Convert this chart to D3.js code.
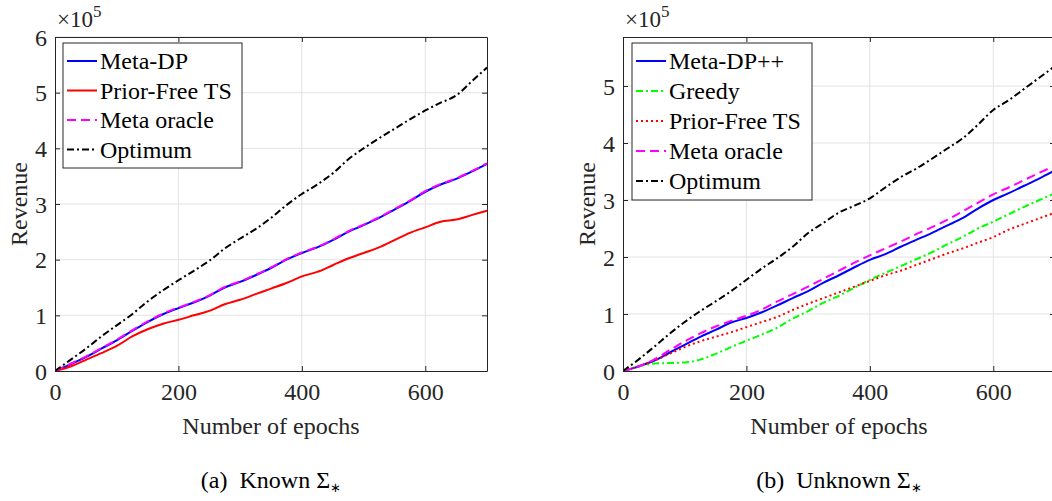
<!DOCTYPE html>
<html>
<head>
<meta charset="utf-8">
<script src="https://cdn.jsdelivr.net/npm/d3@7"></script>
</head>
<body style="margin:0;background:#fff">
<svg id="chart" width="1052" height="501"></svg>
<script>
//
// Data (revenue in units of 1e5)
//
const epochs = [0, 25, 50, 75, 100, 125, 150, 175, 200, 225, 250, 275, 300, 325, 350,
  375, 400, 425, 450, 475, 500, 525, 550, 575, 600, 625, 650, 675, 700];

// (a) Known Sigma
const knownMetaDP = [0, 0.12, 0.25, 0.40, 0.55, 0.72, 0.88, 1.02, 1.13, 1.23, 1.35, 1.50, 1.60, 1.72, 1.85,
  2.00, 2.12, 2.22, 2.35, 2.50, 2.62, 2.75, 2.90, 3.05, 3.22, 3.35, 3.45, 3.58, 3.72];
const knownPriorFree = [0, 0.08, 0.20, 0.32, 0.45, 0.62, 0.75, 0.85, 0.92, 1.00, 1.08, 1.20, 1.28, 1.38, 1.48,
  1.58, 1.70, 1.78, 1.90, 2.02, 2.12, 2.22, 2.35, 2.48, 2.58, 2.68, 2.72, 2.80, 2.88];
const knownOracle = [0, 0.13, 0.26, 0.41, 0.56, 0.73, 0.89, 1.03, 1.14, 1.24, 1.36, 1.51, 1.61, 1.73, 1.86,
  2.01, 2.13, 2.23, 2.36, 2.51, 2.63, 2.76, 2.91, 3.06, 3.23, 3.36, 3.46, 3.59, 3.73];
const knownOptimum = [0, 0.20, 0.40, 0.62, 0.82, 1.02, 1.25, 1.45, 1.63, 1.80, 1.98, 2.20, 2.38, 2.55, 2.75,
  2.98, 3.18, 3.35, 3.55, 3.80, 4.00, 4.18, 4.35, 4.52, 4.68, 4.82, 4.95, 5.20, 5.45];

// (b) Unknown Sigma
const unknownMetaDPpp = [0, 0.08, 0.18, 0.32, 0.46, 0.60, 0.72, 0.85, 0.93, 1.03, 1.15, 1.28, 1.40, 1.55, 1.68,
  1.82, 1.95, 2.05, 2.18, 2.30, 2.42, 2.55, 2.68, 2.85, 3.00, 3.12, 3.25, 3.38, 3.52];
const unknownGreedy = [0, 0.08, 0.13, 0.14, 0.15, 0.20, 0.30, 0.42, 0.53, 0.64, 0.76, 0.92, 1.05, 1.20, 1.32,
  1.46, 1.60, 1.72, 1.84, 1.96, 2.08, 2.22, 2.35, 2.50, 2.62, 2.75, 2.88, 3.00, 3.12];
const unknownPriorFree = [0, 0.08, 0.18, 0.30, 0.42, 0.52, 0.60, 0.68, 0.77, 0.86, 0.95, 1.07, 1.18, 1.28, 1.38,
  1.48, 1.58, 1.68, 1.76, 1.86, 1.96, 2.06, 2.15, 2.25, 2.35, 2.48, 2.58, 2.68, 2.78];
const unknownOracle = [0, 0.08, 0.20, 0.36, 0.52, 0.66, 0.78, 0.88, 0.97, 1.08, 1.22, 1.35, 1.48, 1.62, 1.76,
  1.90, 2.03, 2.15, 2.27, 2.40, 2.52, 2.65, 2.80, 2.95, 3.10, 3.22, 3.35, 3.48, 3.60];
const unknownOptimum = [0, 0.20, 0.42, 0.65, 0.86, 1.05, 1.22, 1.40, 1.60, 1.80, 1.98, 2.18, 2.42, 2.60, 2.78,
  2.90, 3.03, 3.22, 3.40, 3.55, 3.72, 3.90, 4.08, 4.32, 4.58, 4.75, 4.95, 5.15, 5.35];

const xTicks = [0, 200, 400, 600];
const yTicksA = [0, 1, 2, 3, 4, 5, 6];
const yTicksB = [0, 1, 2, 3, 4, 5];

// Line styles
const styles = {
  solid: null,
  dashed: '9,5',
  dotted: '2,3',
  dashdot: '7,3,2,3'
};

const FONT = 'Liberation Serif';
const INK = '#262626';

const svg = d3.select('#chart');

function drawPanel(cfg) {
  const x = d3.scaleLinear().domain([0, 700]).range([cfg.left, cfg.left + 432]);
  const y = d3.scaleLinear().domain([0, cfg.yMax]).range([371, 37]);
  const g = svg.append('g');

  // Grid
  g.selectAll('.gx').data(xTicks.slice(1)).join('line')
    .attr('x1', d => x(d)).attr('x2', d => x(d))
    .attr('y1', 37).attr('y2', 371)
    .attr('stroke', '#e3e3e3').attr('stroke-width', 1);
  g.selectAll('.gy').data(cfg.yTicks.slice(1)).join('line')
    .attr('x1', x(0)).attr('x2', x(700))
    .attr('y1', d => y(d)).attr('y2', d => y(d))
    .attr('stroke', '#e3e3e3').attr('stroke-width', 1);

  // Lines
  const clipId = 'clip' + cfg.id;
  svg.append('clipPath').attr('id', clipId).append('rect')
    .attr('x', x(0)).attr('y', 37).attr('width', 432).attr('height', 334);

  const line = d3.line().x((d, i) => x(epochs[i])).y(d => y(d)).curve(d3.curveMonotoneX);

  cfg.series.forEach(s => {
    g.append('path')
      .attr('clip-path', `url(#${clipId})`)
      .attr('d', line(s.values))
      .attr('fill', 'none')
      .attr('stroke', s.color)
      .attr('stroke-width', 2)
      .attr('stroke-dasharray', styles[s.dash]);
  });

  // Axes (inward ticks, MATLAB style box)
  const xAxis = d3.axisBottom(x).tickValues(xTicks).tickFormat(d3.format('d'))
    .tickSizeInner(-5).tickSizeOuter(0).tickPadding(12);
  const yAxis = d3.axisLeft(y).tickValues(cfg.yTicks).tickFormat(d3.format('d'))
    .tickSizeInner(-5).tickSizeOuter(0).tickPadding(8);

  const gx = g.append('g').attr('transform', 'translate(0,371)').call(xAxis);
  const gy = g.append('g').attr('transform', `translate(${x(0)},0)`).call(yAxis);
  g.append('g').attr('transform', 'translate(0,37)')
    .call(d3.axisTop(x).tickValues(xTicks).tickSizeInner(-5).tickSizeOuter(0).tickFormat(''));
  g.append('g').attr('transform', `translate(${x(700)},0)`)
    .call(d3.axisRight(y).tickValues(cfg.yTicks).tickSizeInner(-5).tickSizeOuter(0).tickFormat(''));

  g.selectAll('.domain').attr('stroke', INK);
  g.selectAll('.tick line').attr('stroke', INK);
  gx.selectAll('.tick line').filter(d => d === 0).remove();
  gx.selectAll('text').attr('fill', INK).attr('font-size', 24).attr('dy', '0.71em');
  gy.selectAll('text').attr('fill', INK).attr('font-size', 24).attr('dy', '0.34em');

  // Exponent label
  const ex = g.append('text').attr('x', x(0) + 2).attr('y', 27)
    .attr('font-size', 23).attr('fill', INK);
  ex.append('tspan').text('\u00d710');
  ex.append('tspan').attr('dy', -10).attr('font-size', 17).text('5');

  // Axis labels
  g.append('text')
    .attr('transform', `translate(${cfg.left - 28},204) rotate(-90)`)
    .attr('text-anchor', 'middle').attr('font-size', 24).attr('fill', INK).text('Revenue');
  g.append('text').attr('x', x(350)).attr('y', 434)
    .attr('text-anchor', 'middle').attr('font-size', 24).attr('fill', INK).text('Number of epochs');

  // Caption
  const cap = g.append('text').attr('x', x(350)).attr('y', 488)
    .attr('text-anchor', 'middle').attr('font-size', 24).attr('fill', '#000');
  cap.append('tspan').text(cfg.caption);
  cap.append('tspan').text('\u03a3');
  cap.append('tspan').attr('dy', 4).attr('font-size', 13).text('\u2217');

  // Legend
  const lg = g.append('g');
  lg.append('rect')
    .attr('x', cfg.legend.x).attr('y', 43)
    .attr('width', cfg.legend.w).attr('height', cfg.series.length * cfg.legend.step + 7)
    .attr('fill', '#fff').attr('stroke', INK).attr('stroke-width', 1);
  cfg.series.forEach((s, i) => {
    const cy = 61 + i * cfg.legend.step;
    lg.append('line')
      .attr('x1', cfg.legend.x + 4).attr('x2', cfg.legend.x + 34)
      .attr('y1', cy).attr('y2', cy)
      .attr('stroke', s.color).attr('stroke-width', 2)
      .attr('stroke-dasharray', styles[s.dash]);
    lg.append('text')
      .attr('x', cfg.legend.x + 37).attr('y', cy).attr('dy', '0.34em')
      .attr('font-size', 24).attr('fill', '#000').text(s.name);
  });
}

drawPanel({
  id: 'a',
  left: 55,
  yMax: 6,
  yTicks: yTicksA,
  caption: '(a)\u2002Known ',
  legend: {x: 63, w: 179, step: 29.5},
  series: [
    {name: 'Meta-DP', values: knownMetaDP, color: '#0000ff', dash: 'solid'},
    {name: 'Prior-Free TS', values: knownPriorFree, color: '#ff0000', dash: 'solid'},
    {name: 'Meta oracle', values: knownOracle, color: '#ff00ff', dash: 'dashed'},
    {name: 'Optimum', values: knownOptimum, color: '#000000', dash: 'dashdot'}
  ]
});

drawPanel({
  id: 'b',
  left: 623,
  yMax: 5.86,
  yTicks: yTicksB,
  caption: '(b)\u2002Unknown ',
  legend: {x: 632, w: 180, step: 30},
  series: [
    {name: 'Meta-DP++', values: unknownMetaDPpp, color: '#0000ff', dash: 'solid'},
    {name: 'Greedy', values: unknownGreedy, color: '#00ff00', dash: 'dashdot'},
    {name: 'Prior-Free TS', values: unknownPriorFree, color: '#ff0000', dash: 'dotted'},
    {name: 'Meta oracle', values: unknownOracle, color: '#ff00ff', dash: 'dashed'},
    {name: 'Optimum', values: unknownOptimum, color: '#000000', dash: 'dashdot'}
  ]
});

// One font for every label, set on each text node
svg.selectAll('text').attr('font-family', FONT);
svg.selectAll('g').attr('font-family', FONT);
</script>
</body>
</html>
